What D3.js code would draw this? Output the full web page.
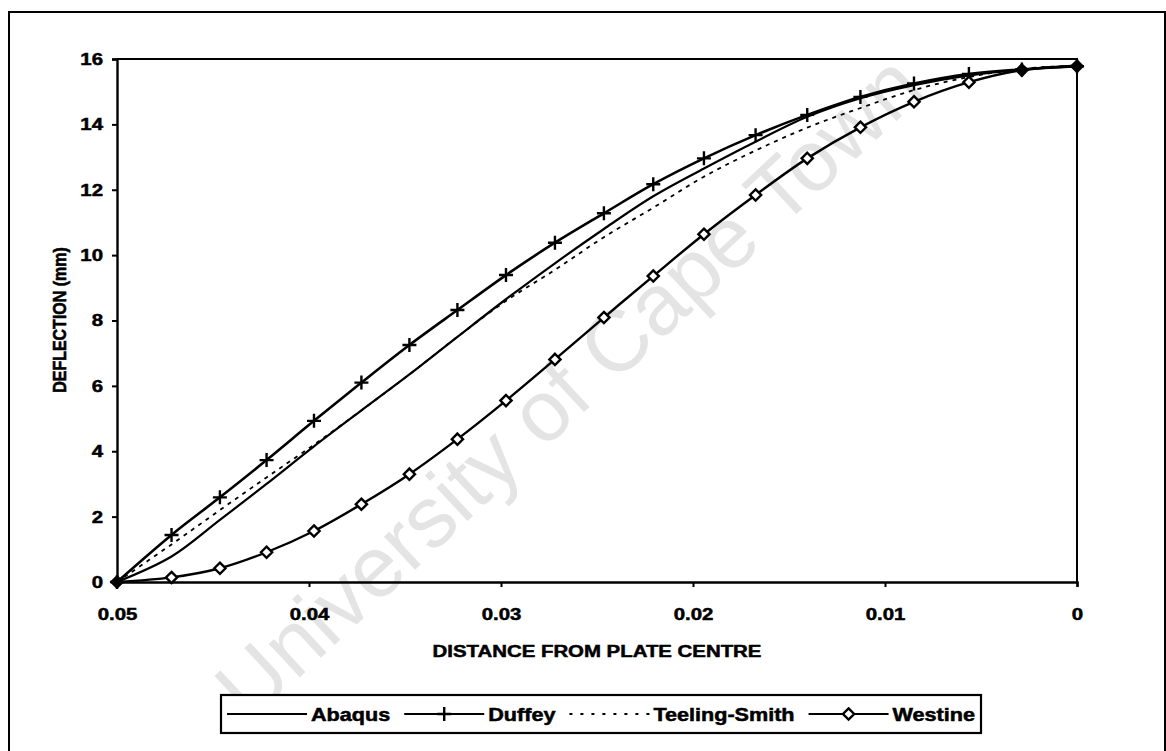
<!DOCTYPE html>
<html>
<head>
<meta charset="utf-8">
<script src="https://cdn.jsdelivr.net/npm/d3@7"></script>
<style>
  body { margin: 0; background: #fff; }
  svg { display: block; font-family: "Liberation Sans", Arial, sans-serif; font-weight: bold; }
  .lbl { stroke: #000; stroke-width: 0.5px; fill: #000; }
</style>
</head>
<body>
<script>
// distance from plate centre (m) and deflection (mm) for each model
var distance = [0.05, 0.04716, 0.04464, 0.04221, 0.03974, 0.03727, 0.03477, 0.03227, 0.02974, 0.02719,
                0.02464, 0.02207, 0.01943, 0.01674, 0.01405, 0.01128, 0.00849, 0.00563, 0.00287, 0];
var abaqus = [0, 0.78, 1.9, 3.0, 4.15, 5.25, 6.35, 7.5, 8.65, 9.75, 10.8, 11.8, 12.65, 13.47, 14.23, 14.8, 15.2, 15.5, 15.68, 15.8];
var duffey = [0, 1.44, 2.59, 3.73, 4.93, 6.1, 7.25, 8.32, 9.39, 10.38, 11.28, 12.17, 12.96, 13.67, 14.29, 14.84, 15.25, 15.54, 15.68, 15.78];
var teelingSmith = [0, 1.15, 2.2, 3.2, 4.2, 5.25, 6.35, 7.5, 8.6, 9.55, 10.55, 11.45, 12.4, 13.2, 13.9, 14.5, 15.05, 15.45, 15.7, 15.8];
var westine = [0, 0.14, 0.42, 0.91, 1.56, 2.38, 3.3, 4.37, 5.55, 6.81, 8.09, 9.36, 10.64, 11.84, 12.96, 13.91, 14.69, 15.29, 15.66, 15.78];

var xTicks = [0.05, 0.04, 0.03, 0.02, 0.01, 0];
var yTicks = [0, 2, 4, 6, 8, 10, 12, 14, 16];
var seriesNames = ["Abaqus", "Duffey", "Teeling-Smith", "Westine"];

var W = 1166, H = 751;
var sx = 1.2; // glyphs in the scan are a bit wide

var svg = d3.select("body").append("svg")
    .attr("width", W)
    .attr("height", H);

// outer chart frame
svg.append("rect")
    .attr("x", 9).attr("y", 12)
    .attr("width", 1156).attr("height", 760)
    .attr("fill", "none")
    .attr("stroke", "#000")
    .attr("stroke-width", 2);

// watermark
svg.append("text")
    .attr("transform", "translate(568,386) rotate(-43)")
    .attr("text-anchor", "middle")
    .attr("dy", "0.35em")
    .style("font-weight", "normal")
    .style("font-size", "86px")
    .attr("fill", "#e4e4e4")
    .text("University of Cape Town");

var x = d3.scaleLinear().domain([0.05, 0]).range([117, 1077]);
var y = d3.scaleLinear().domain([0, 16]).range([582, 59]);

// plot area border (top and right)
svg.append("path")
    .attr("d", "M" + x(0.05) + "," + y(16) + "H" + x(0) + "V" + y(0))
    .attr("fill", "none")
    .attr("stroke", "#000")
    .attr("stroke-width", 2);

var yAxis = svg.append("g")
    .attr("transform", "translate(" + x(0.05) + ",0)")
    .call(d3.axisLeft(y).tickValues(yTicks).tickSize(5).tickPadding(9).tickFormat(d3.format("d")));
var xAxis = svg.append("g")
    .attr("transform", "translate(0," + y(0) + ")")
    .call(d3.axisBottom(x).tickValues(xTicks).tickSize(5).tickPadding(21)
        .tickFormat(function(d) { return d === 0 ? "0" : d3.format(".2f")(d); }));

[xAxis, yAxis].forEach(function(a) {
  a.select(".domain").attr("stroke-width", 2.4);
  a.selectAll(".tick line").attr("stroke-width", 2);
  a.selectAll(".tick text")
      .attr("class", "lbl")
      .style("font-size", "17px")
      .style("font-family", "'Liberation Sans', Arial, sans-serif");
});
yAxis.selectAll(".tick text").attr("x", -14 / sx).attr("transform", "scale(" + sx + ",1)");
xAxis.selectAll(".tick text").attr("transform", "scale(" + sx + ",1)");

// axis titles
svg.append("text")
    .attr("class", "lbl")
    .attr("transform", "translate(597,657) scale(" + sx + ",1)")
    .attr("text-anchor", "middle")
    .style("font-size", "17px")
    .text("DISTANCE FROM PLATE CENTRE");

svg.append("text")
    .attr("class", "lbl")
    .attr("transform", "translate(66,320) rotate(-90) scale(1," + sx + ")")
    .attr("text-anchor", "middle")
    .style("font-size", "16px")
    .text("DEFLECTION (mm)");

// series
var lineGen = d3.line()
    .x(function(d) { return x(d[0]); })
    .y(function(d) { return y(d[1]); })
    .curve(d3.curveCatmullRom.alpha(0.5));

function pairs(vals) { return distance.map(function(d, i) { return [d, vals[i]]; }); }

var series = [
  { name: seriesNames[0], data: pairs(abaqus), width: 2.2, dash: null, marker: null },
  { name: seriesNames[1], data: pairs(duffey), width: 2.6, dash: null, marker: "plus" },
  { name: seriesNames[2], data: pairs(teelingSmith), width: 1.8, dash: "4,5", marker: null },
  { name: seriesNames[3], data: pairs(westine), width: 2.4, dash: null, marker: "diamond" }
];

var plot = svg.append("g");

plot.selectAll(".series")
    .data(series)
  .enter().append("path")
    .attr("class", "series")
    .attr("d", function(d) { return lineGen(d.data); })
    .attr("fill", "none")
    .attr("stroke", "#000")
    .attr("stroke-width", function(d) { return d.width; })
    .attr("stroke-dasharray", function(d) { return d.dash; });

var diamond = d3.symbol().type(d3.symbolDiamond2).size(80);

function drawMarker(g, kind, filled) {
  if (kind === "plus") {
    g.append("path")
        .attr("d", "M-7,0H7M0,-7V7")
        .attr("stroke", "#000")
        .attr("stroke-width", 2.4);
  } else if (kind === "diamond") {
    g.append("path")
        .attr("d", diamond())
        .attr("fill", filled ? "#000" : "#fff")
        .attr("stroke", "#000")
        .attr("stroke-width", 2.4);
  }
}

series.forEach(function(s) {
  if (!s.marker) return;
  var n = s.data.length;
  s.data.forEach(function(p, i) {
    var g = plot.append("g").attr("transform", "translate(" + x(p[0]) + "," + y(p[1]) + ")");
    drawMarker(g, s.marker, i === 0 || i >= n - 2);
  });
});

// legend
var legBox = { x: 221, y: 695, w: 760, h: 38 };
var legend = svg.append("g");
legend.append("rect")
    .attr("x", legBox.x).attr("y", legBox.y)
    .attr("width", legBox.w).attr("height", legBox.h)
    .attr("fill", "#fff")
    .attr("stroke", "#000")
    .attr("stroke-width", 2.2);

var symW = 80, gapT = 4, gapItem = 14;
var items = legend.append("g");
var cy = legBox.y + legBox.h / 2;
var cursor = 0;
series.forEach(function(s) {
  var g = items.append("g").attr("transform", "translate(" + cursor + ",0)");
  g.append("line")
      .attr("x1", 0).attr("x2", symW)
      .attr("y1", cy).attr("y2", cy)
      .attr("stroke", "#000")
      .attr("stroke-width", s.dash ? 1.8 : 2.2)
      .attr("stroke-dasharray", s.dash ? "3,8" : null);
  if (s.marker) {
    var m = g.append("g").attr("transform", "translate(" + symW / 2 + "," + cy + ")");
    drawMarker(m, s.marker, false);
  }
  var t = g.append("text")
      .attr("class", "lbl")
      .attr("transform", "translate(" + (symW + gapT) + "," + (cy + 6.5) + ") scale(" + sx + ",1)")
      .style("font-size", "18px")
      .text(s.name);
  var tw = t.node().getComputedTextLength() * sx;
  cursor += symW + gapT + tw + gapItem;
});
var total = cursor - gapItem;
items.attr("transform", "translate(" + (legBox.x + (legBox.w - total) / 2) + ",0)");
</script>
</body>
</html>
